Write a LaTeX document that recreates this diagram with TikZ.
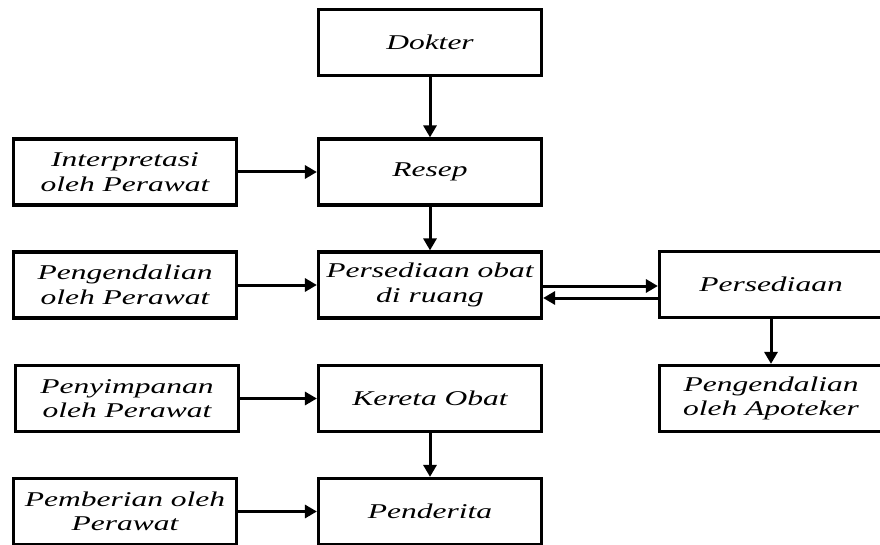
\documentclass[tikz,border=0pt]{standalone}
\usepackage{fontspec}
\setmainfont{Liberation Serif}[FakeStretch=1.5]
\usetikzlibrary{arrows.meta}
\begin{document}
\begin{tikzpicture}[x=1pt,y=-1pt,
  box/.style={draw=black,line width=3.2pt,minimum width=223pt,minimum height=66pt,
    inner sep=0pt,align=center,font=\fontsize{21}{24.5}\selectfont\itshape},
  arr/.style={line width=3pt,-{Triangle[length=12pt,width=13pt]}}]
\useasboundingbox (0,0) rectangle (880,545);
\clip (0,0) rectangle (880,545);
% centre column: the prescription path
\node[box] (dokter) at (430,42.5) {Dokter};
\node[box] (resep) at (430,172) {Resep};
\node[box] (pobat) at (430,285) {Persediaan obat\\di ruang};
\node[box] (kereta) at (430,398.5) {Kereta Obat};
\node[box] (penderita) at (430,511.5) {Penderita};
% left column: nursing tasks
\node[box] (interp) at (125,172) {Interpretasi\\oleh Perawat};
\node[box] (pengper) at (125,285) {Pengendalian\\oleh Perawat};
\node[box] (penyimp) at (127,398.5) {Penyimpanan\\oleh Perawat};
\node[box] (pember) at (125,511.5) {Pemberian oleh\\Perawat};
% right column: pharmacy
\node[box] (pers) at (771,284.5) {Persediaan};
\node[box] (apot) at (771,398.5) {Pengendalian\\oleh Apoteker};
% connectors
\draw[arr] (dokter) -- (resep);
\draw[arr] (resep) -- (pobat);
\draw[arr] (kereta) -- (penderita);
\draw[arr] (interp) -- (resep);
\draw[arr] (pengper) -- (pobat);
\draw[arr] (penyimp) -- (kereta);
\draw[arr] (pember) -- (penderita);
\draw[arr] ([yshift=-1pt]pobat.east) -- ([yshift=-1pt]pobat.east -| pers.west);
\draw[arr] ([yshift=-13pt]pobat.east -| pers.west) -- ([yshift=-13pt]pobat.east);
\draw[arr] (pers) -- (apot);
\end{tikzpicture}
\end{document}
